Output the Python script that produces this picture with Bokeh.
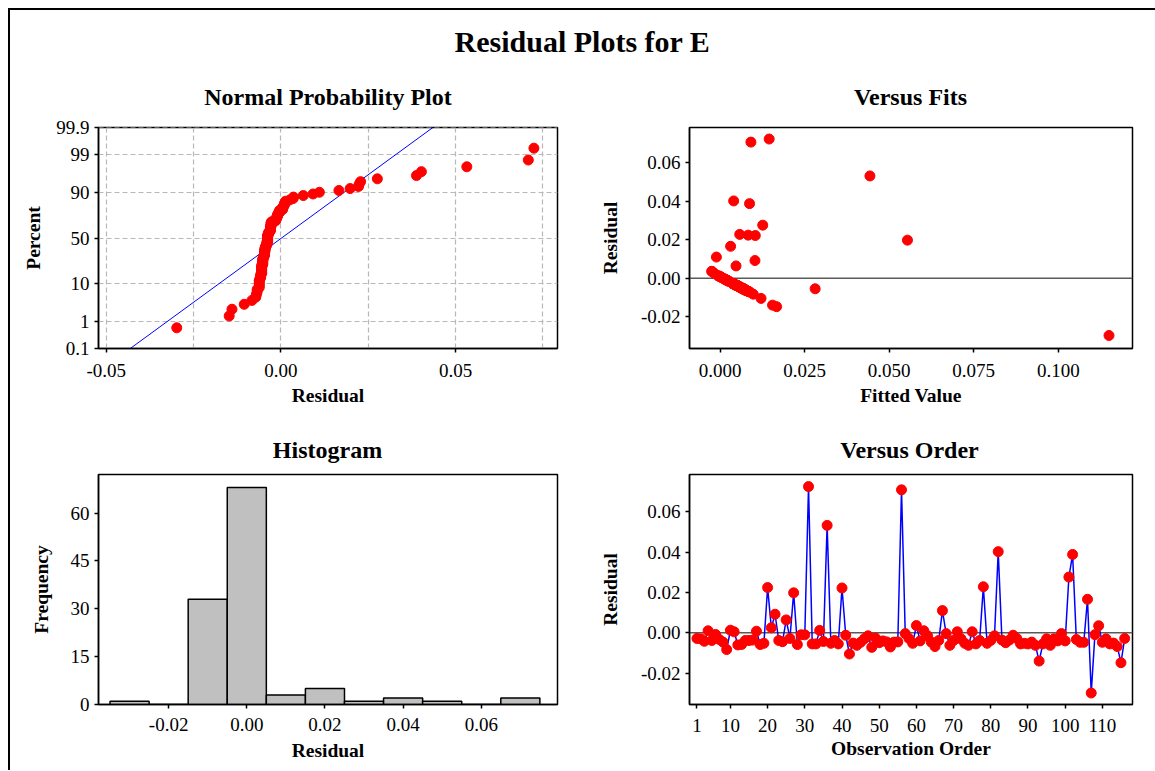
from statistics import NormalDist
import numpy as np
from bokeh.plotting import figure
from bokeh.models import Range1d, FixedTicker, Span, Spacer
from bokeh.layouts import row, column
from bokeh.embed import file_html
from bokeh.resources import INLINE
from bokeh.core.properties import value

# ---------------- data ----------------
RESIDUALS = [
    -0.0028, -0.0030, -0.0042, 0.0010, -0.0038, -0.0008, -0.0033, -0.0046, -0.0083, 0.0013,
    0.0005, -0.0060, -0.0058, -0.0038, -0.0038, -0.0036, 0.0008, -0.0058, -0.0052, 0.0224,
    0.0025, 0.0092, -0.0038, -0.0044, 0.0064, -0.0028, 0.0198, -0.0058, -0.0010, -0.0010,
    0.0724, -0.0055, -0.0055, 0.0012, -0.0043, 0.0532, -0.0052, -0.0038, -0.0055, 0.0222,
    -0.0012, -0.0105, -0.0051, -0.0062, -0.0047, -0.0030, -0.0015, -0.0072, -0.0026, -0.0049,
    -0.0040, -0.0045, -0.0070, -0.0046, -0.0045, 0.0708, -0.0004, -0.0028, -0.0052, 0.0036,
    -0.0040, 0.0010, -0.0015, -0.0046, -0.0068, -0.0038, 0.0110, -0.0004, -0.0062, -0.0038,
    0.0005, -0.0030, -0.0052, -0.0062, 0.0005, -0.0055, -0.0038, 0.0228, -0.0052, -0.0038,
    -0.0015, 0.0402, -0.0036, -0.0049, -0.0036, -0.0012, -0.0028, -0.0055, -0.0052, -0.0055,
    -0.0046, -0.0062, -0.0140, -0.0055, -0.0030, -0.0062, -0.0030, -0.0040, -0.0004, -0.0040,
    0.0276, 0.0388, -0.0033, -0.0047, -0.0047, 0.0166, -0.0298, -0.0009, 0.0035, -0.0047,
    -0.0030, -0.0055, -0.0051, -0.0068, -0.0148, -0.0028,
]
FITTED = [
    0.0039, 0.0040, 0.0054, -0.0002, 0.0050, 0.0017, 0.0044, 0.0058, 0.0098, -0.0006,
    0.0003, 0.0071, 0.0072, 0.0048, 0.0051, 0.0046, 0.0000, 0.0070, 0.0066, 0.0083,
    -0.0017, 0.0103, 0.0049, 0.0056, 0.0047, 0.0038, 0.0554, 0.0073, 0.0019, 0.0020,
    0.0145, 0.0067, 0.0069, -0.0005, 0.0055, 0.0443, 0.0064, 0.0049, 0.0068, 0.0104,
    0.0021, 0.0121, 0.0062, 0.0076, 0.0060, 0.0041, 0.0025, 0.0088, 0.0036, 0.0061,
    0.0052, 0.0057, 0.0084, 0.0059, 0.0056, 0.0091, 0.0013, 0.0039, 0.0065, -0.0025,
    0.0053, -0.0001, 0.0025, 0.0058, 0.0082, 0.0050, -0.0011, 0.0012, 0.0074, 0.0049,
    0.0004, 0.0042, 0.0064, 0.0077, 0.0003, 0.0281, 0.0048, 0.0058, 0.0066, 0.0050,
    0.0024, 0.0040, 0.0047, 0.0062, 0.0046, 0.0022, 0.0038, 0.0070, 0.0065, 0.0067,
    0.0059, 0.0075, 0.0155, 0.0068, 0.0040, 0.0076, 0.0042, 0.0051, 0.0013, 0.0052,
    0.0126, 0.0087, 0.0043, 0.0059, 0.0060, 0.0031, 0.1150, 0.0018, -0.0024, 0.0058,
    0.0041, 0.0069, 0.0063, 0.0083, 0.0167, 0.0039,
]
OBS_ORDER = list(range(1, len(RESIDUALS) + 1))

HIST_MIDPOINTS = [-0.03, -0.02, -0.01, 0.00, 0.01, 0.02, 0.03, 0.04, 0.05, 0.06, 0.07]
HIST_COUNTS = [1, 0, 33, 68, 3, 5, 1, 2, 1, 0, 2]
HIST_BIN_WIDTH = 0.01

NPP_X_TICKS = [-0.05, 0.0, 0.05]
NPP_X_LABELS = ["-0.05", "0.00", "0.05"]
NPP_X_GRID = [-0.05, -0.025, 0.0, 0.025, 0.05, 0.075]
NPP_PERCENT_TICKS = [0.1, 1, 10, 50, 90, 99, 99.9]
NPP_PERCENT_LABELS = ["0.1", "1", "10", "50", "90", "99", "99.9"]
RESID_TICKS = [-0.02, 0.0, 0.02, 0.04, 0.06]
RESID_LABELS = ["-0.02", "0.00", "0.02", "0.04", "0.06"]
FIT_TICKS = [0.0, 0.025, 0.05, 0.075, 0.1]
FIT_LABELS = ["0.000", "0.025", "0.050", "0.075", "0.100"]
HIST_X_TICKS = [-0.02, 0.0, 0.02, 0.04, 0.06]
HIST_X_LABELS = ["-0.02", "0.00", "0.02", "0.04", "0.06"]
FREQ_TICKS = [0, 15, 30, 45, 60]
FREQ_LABELS = ["0", "15", "30", "45", "60"]
ORDER_TICKS = [1, 10, 20, 30, 40, 50, 60, 70, 80, 90, 100, 110]
ORDER_LABELS = ["1", "10", "20", "30", "40", "50", "60", "70", "80", "90", "100", "110"]

MAIN_TITLE = "Residual Plots for E"
TITLES = ["Normal Probability Plot", "Versus Fits", "Histogram", "Versus Order"]

FONT = "Liberation Serif"
RED = "#FF0000"
BLUE = "#0000FF"

# ---------------- helpers ----------------
def strip(w, h):
    s = figure(width=w, height=h, x_range=Range1d(0, w), y_range=Range1d(h, 0),
               toolbar_location=None, output_backend="svg", min_border=0,
               x_axis_type=None, y_axis_type=None)
    s.outline_line_color = None
    s.background_fill_color = "white"
    s.border_fill_color = "white"
    return s


def panel(w, h, xr, yr, mbl, mbr, mbt, mbb):
    p = figure(width=w, height=h, x_range=Range1d(*xr), y_range=Range1d(*yr),
               toolbar_location=None, output_backend="svg",
               min_border_left=mbl, min_border_right=mbr,
               min_border_top=mbt, min_border_bottom=mbb)
    p.outline_line_color = "black"
    p.outline_line_width = 1.5
    p.background_fill_color = "white"
    p.border_fill_color = "white"
    p.grid.visible = False
    for ax in p.axis:
        ax.axis_line_color = "black"
        ax.axis_line_width = 1.5
        ax.major_tick_line_color = "black"
        ax.major_tick_line_width = 1.5
        ax.major_tick_in = 0
        ax.major_tick_out = 4
        ax.minor_tick_line_color = None
        ax.major_label_text_font = FONT
        ax.major_label_text_font_size = "19px"
        ax.major_label_text_color = "black"
        ax.axis_label_text_font = FONT
        ax.axis_label_text_font_style = "bold"
        ax.axis_label_text_font_size = "19.5px"
        ax.axis_label_text_color = "black"
        ax.major_label_standoff = 5
    return p


def set_ticks(axis, ticks, labels):
    axis.ticker = FixedTicker(ticks=ticks)
    axis.major_label_overrides = {t: l for t, l in zip(ticks, labels)}


nd = NormalDist()
ZMAX = nd.inv_cdf(0.999)

# ---------------- Normal probability plot ----------------
n = len(RESIDUALS)
sorted_res = sorted(RESIDUALS)
z_pts = [nd.inv_cdf((i - 0.3) / (n + 0.4)) for i in range(1, n + 1)]
mu = float(np.mean(RESIDUALS))
sd = float(np.std(RESIDUALS, ddof=1))
z_line = [-3.6, 3.6]
x_line = [mu + sd * z for z in z_line]

TOP_H, BOT_H = 300, 307
LW, RW = 586, 559

p1 = panel(LW, TOP_H, (-0.0522, 0.07915), (-ZMAX - 1e-6, ZMAX + 1e-6), 88, 39, 11, 68)
z_ticks = [nd.inv_cdf(pc / 100.0) for pc in NPP_PERCENT_TICKS]
set_ticks(p1.xaxis[0], NPP_X_TICKS, NPP_X_LABELS)
set_ticks(p1.yaxis[0], z_ticks, NPP_PERCENT_LABELS)
p1.xgrid.visible = True
p1.ygrid.visible = True
p1.xgrid.ticker = FixedTicker(ticks=NPP_X_GRID)
p1.ygrid.ticker = FixedTicker(ticks=z_ticks)
for g in (p1.xgrid[0], p1.ygrid[0]):
    g.grid_line_color = "#b8b8b8"
    g.grid_line_dash = "5 3"
    g.grid_line_width = 1.2
p1.line(x_line, z_line, line_color=BLUE, line_width=1)
p1.scatter(sorted_res, z_pts, size=10, fill_color=RED, line_color=RED)
p1.xaxis.axis_label = "Residual"
p1.yaxis.axis_label = "Percent"
p1.xaxis.major_label_standoff = 11
p1.xaxis.axis_label_standoff = 5
p1.yaxis.axis_label_standoff = 9

# ---------------- Versus fits ----------------
p2 = panel(RW, TOP_H, (-0.00906, 0.12195), (-0.03656, 0.0784), 92, 23, 11, 68)
set_ticks(p2.xaxis[0], FIT_TICKS, FIT_LABELS)
set_ticks(p2.yaxis[0], RESID_TICKS, RESID_LABELS)
p2.add_layout(Span(location=0, dimension="width", line_color="#5a5a5a",
                   line_width=1.5, level="underlay"))
p2.scatter(FITTED, RESIDUALS, size=10, fill_color=RED, line_color=RED)
p2.xaxis.axis_label = "Fitted Value"
p2.yaxis.axis_label = "Residual"
p2.xaxis.major_label_standoff = 11
p2.xaxis.axis_label_standoff = 5
p2.yaxis.axis_label_standoff = 17

# ---------------- Histogram ----------------
p3 = panel(LW, BOT_H, (-0.03795, 0.07951), (0, 72.1), 88, 39, 11, 66)
set_ticks(p3.xaxis[0], HIST_X_TICKS, HIST_X_LABELS)
set_ticks(p3.yaxis[0], FREQ_TICKS, FREQ_LABELS)
lefts = [m - HIST_BIN_WIDTH / 2 for m in HIST_MIDPOINTS]
rights = [m + HIST_BIN_WIDTH / 2 for m in HIST_MIDPOINTS]
p3.quad(left=lefts, right=rights, bottom=0, top=HIST_COUNTS,
        fill_color="#C0C0C0", line_color="black", line_width=1.5)
p3.xaxis.axis_label = "Residual"
p3.yaxis.axis_label = "Frequency"
p3.xaxis.major_label_standoff = 9
p3.xaxis.axis_label_standoff = 6
p3.yaxis.axis_label_standoff = 16

# ---------------- Versus order ----------------
p4 = panel(RW, BOT_H, (-1.0, 118.1), (-0.0355, 0.0784), 92, 23, 11, 66)
set_ticks(p4.xaxis[0], ORDER_TICKS, ORDER_LABELS)
set_ticks(p4.yaxis[0], RESID_TICKS, RESID_LABELS)
p4.add_layout(Span(location=0, dimension="width", line_color="#5a5a5a",
                   line_width=1.5, level="underlay"))
p4.line(OBS_ORDER, RESIDUALS, line_color=BLUE, line_width=1.5)
p4.scatter(OBS_ORDER, RESIDUALS, size=10, fill_color=RED, line_color=RED)
p4.xaxis.axis_label = "Observation Order"
p4.yaxis.axis_label = "Residual"
p4.xaxis.major_label_standoff = 10
p4.xaxis.axis_label_standoff = 3
p4.yaxis.axis_label_standoff = 17

# ---------------- title strips ----------------
W = LW + RW
S1_H = 106
s1 = strip(W, S1_H)
s1.text(x=[572], y=[31], text=[MAIN_TITLE], text_font=value(FONT),
        text_font_style="bold", text_font_size=value("30px"),
        text_align="center", text_baseline="middle", text_color="black")
s1.text(x=[317.5, 900], y=[86, 86], text=TITLES[:2], text_font=value(FONT),
        text_font_style="bold", text_font_size=value("24px"),
        text_align="center", text_baseline="middle", text_color="black")

s2 = strip(W, 47)
s2.text(x=[317, 899], y=[33.5, 33.5], text=TITLES[2:], text_font=value(FONT),
        text_font_style="bold", text_font_size=value("24px"),
        text_align="center", text_baseline="middle", text_color="black")

TOTAL_H = S1_H + TOP_H + 47 + BOT_H
body = column(s1, row(p1, p2), s2, row(p3, p4),
              styles={"border-left": "2px solid black",
                      "border-top": "2px solid black"})
layout = column(Spacer(width=10, height=8),
                row(Spacer(width=8, height=TOTAL_H), body))

open("out.html", "w").write(file_html(layout, INLINE))
